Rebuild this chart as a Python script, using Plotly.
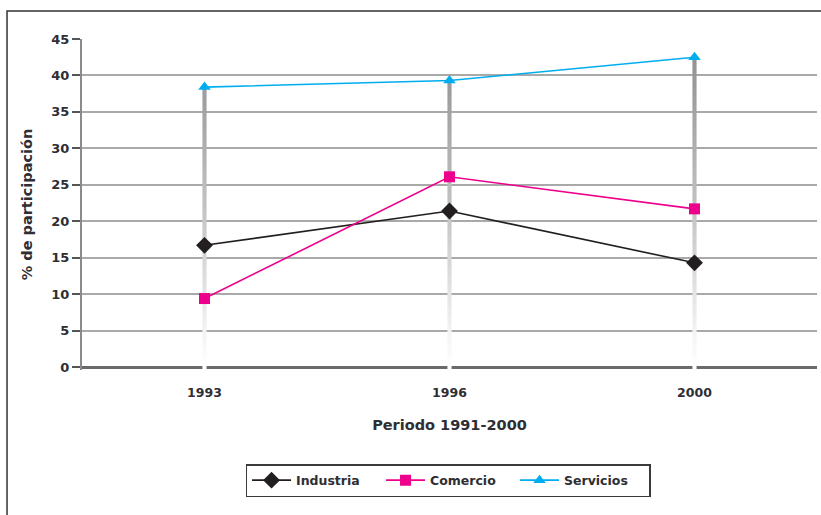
import plotly.graph_objects as go

# Participation (%) by sector in each reference year
years = ["1993", "1996", "2000"]
industria = [16.7, 21.4, 14.3]
comercio = [9.4, 26.1, 21.7]
servicios = [38.4, 39.3, 42.5]

y_ticks = [0, 5, 10, 15, 20, 25, 30, 35, 40, 45]

FONT = "DejaVu Sans"
TEXT = "#2e2e33"
Y_MIN, Y_MAX = -0.4, 45

pos = list(range(len(years)))
fig = go.Figure()

# Vertical high-low drop lines: thin filled columns from the base to the
# highest value of each year, shaded from white at the bottom to grey on top.
half_w = 0.0085
tops = [max(a, b, c) for a, b, c in zip(industria, comercio, servicios)]
for p, top in zip(pos, tops):
    fig.add_trace(go.Scatter(
        x=[p - half_w, p + half_w, p + half_w, p - half_w, p - half_w],
        y=[Y_MIN, Y_MIN, top, top, Y_MIN],
        mode="lines", line=dict(width=0), fill="toself",
        fillgradient=dict(
            type="vertical", start=0, stop=44,
            colorscale=[[0.0, "#ffffff"], [0.12, "#f2f2f3"], [0.45, "#c8c8ca"],
                        [0.75, "#a8a8ab"], [1.0, "#8e8e92"]],
        ),
        showlegend=False, hoverinfo="skip",
    ))

series = [
    ("Industria", industria, "#231f20", "diamond", 13),
    ("Comercio", comercio, "#ec008c", "square", 11),
    ("Servicios", servicios, "#00aeef", "triangle-up", 11),
]
for name, vals, color, sym, size in series:
    fig.add_trace(go.Scatter(
        x=pos, y=vals, name=name, mode="lines+markers",
        line=dict(color=color, width=1.6),
        marker=dict(symbol=sym, size=size, color=color),
    ))

fig.update_layout(
    width=821, height=515,
    margin=dict(l=82, r=4, t=39, b=145),
    paper_bgcolor="white", plot_bgcolor="white",
    font=dict(family=FONT, color=TEXT, size=12),
    showlegend=True,
    legend=dict(
        orientation="h", x=0.498, xanchor="center", y=-0.284, yanchor="top",
        bordercolor="#3a3a3a", borderwidth=1.5, bgcolor="white",
        font=dict(family=FONT, size=12.5, color=TEXT, weight="bold"),
        itemwidth=39, entrywidth=80, tracegroupgap=0,
    ),
    shapes=[dict(
        type="rect", xref="paper", yref="paper",
        x0=-0.102, x1=1.03, y0=-0.6, y1=1.0846,
        line=dict(color="#333333", width=1.5), layer="below",
    )],
)

fig.update_xaxes(
    range=[-0.5, len(years) - 0.5],
    tickvals=pos, ticktext=years,
    showgrid=False, showline=False, zeroline=False, ticks="",
    tickfont=dict(family=FONT, size=12.5, color=TEXT, weight="bold"),
    ticklabelstandoff=13,
    title=dict(text="Periodo 1991-2000", standoff=21,
               font=dict(family=FONT, size=14.5, color=TEXT, weight="bold")),
)

fig.update_yaxes(
    range=[Y_MIN, Y_MAX], tickvals=y_ticks,
    showgrid=True, gridcolor="#a9a9a9", gridwidth=1.5,
    zeroline=True, zerolinecolor="#6a6a6a", zerolinewidth=2.5,
    showline=True, linecolor="#8a8a8a", linewidth=2,
    ticks="outside", ticklen=8, tickcolor="#555555", tickwidth=1.5,
    tickfont=dict(family=FONT, size=13, color=TEXT, weight="bold"),
    title=dict(text="% de participación", standoff=15,
               font=dict(family=FONT, size=14.5, color=TEXT, weight="bold")),
)

fig.write_html("out.html")
